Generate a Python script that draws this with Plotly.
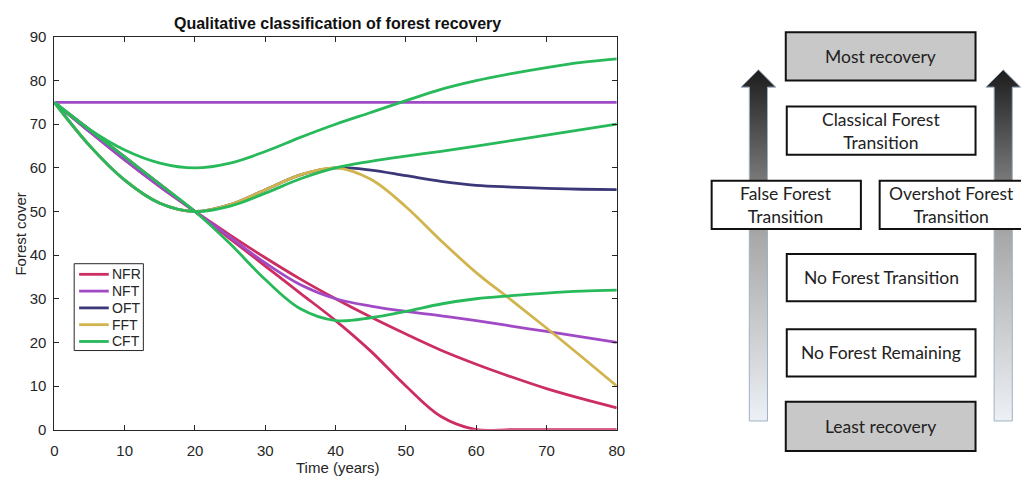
import plotly.graph_objects as go

# ---- data: forest cover (%) over time for each recovery class ----
years = [0, 5, 10, 15, 20, 25, 30, 35, 40, 45, 50, 55, 60, 65, 70, 75, 80]

nfr_zero = [75, 68.75, 62.5, 56.25, 50, 43.75, 37.5, 31.25, 25, 18, 10, 3, 0, 0, 0, 0, 0]
nfr_low = [75, 68.3, 61.8, 55.7, 50, 44.6, 39.4, 34.5, 30, 25.8, 21.9, 18.2, 15, 12.1, 9.4, 7.1, 5]
nft_flat = [75] * 17
nft_decl = [75, 68.3, 61.8, 55.7, 50, 44.1, 38.2, 33.2, 30, 28.3, 27.1, 26.1, 25, 23.75, 22.5, 21.25, 20]
oft = [75, 65.1, 57.2, 51.9, 50, 51.6, 55, 58.4, 60, 59.5, 58.2, 56.9, 56, 55.6, 55.3, 55.1, 55]
fft = [75, 65.1, 57.2, 51.9, 50, 51.6, 55, 58.4, 60, 57.4, 51.1, 43.3, 36, 29.7, 23.3, 16.7, 10]
cft_high = [75, 68.8, 64.1, 61.1, 60, 61.1, 63.75, 67, 70, 72.7, 75.4, 78, 80, 81.6, 83, 84.2, 85]
cft_mid = [75, 65.1, 57.2, 51.9, 50, 51.25, 54.2, 57.5, 60, 61.5, 62.7, 63.8, 65, 66.25, 67.5, 68.75, 70]
cft_low = [75, 68.75, 62.5, 56.25, 50, 42.6, 34.4, 27.7, 25, 25.65, 27.1, 28.8, 30, 30.7, 31.3, 31.75, 32]

x_ticks = [0, 10, 20, 30, 40, 50, 60, 70, 80]
y_ticks = [0, 10, 20, 30, 40, 50, 60, 70, 80, 90]

legend_names = ["NFR", "NFT", "OFT", "FFT", "CFT"]

# ---- classification ladder (labels from least to most recovery) ----
ladder_labels = ["Least recovery", "No Forest Remaining", "No Forest Transition",
                 "False Forest<br>Transition", "Overshot Forest<br>Transition",
                 "Classical Forest<br>Transition", "Most recovery"]

W, H = 1029, 483
FONT = "Liberation Sans, Arial, sans-serif"
DFONT = "Lato, Open Sans, sans-serif"
INK = "#262626"
LW = 2.8

colors = {"NFR": "#cc2e62", "NFT": "#a14ac6", "OFT": "#3b3879",
          "FFT": "#d2b44e", "CFT": "#27b95a"}

series = [("NFR", nfr_zero), ("NFR", nfr_low),
          ("NFT", nft_flat), ("NFT", nft_decl),
          ("OFT", oft), ("FFT", fft),
          ("CFT", cft_high), ("CFT", cft_mid), ("CFT", cft_low)]

fig = go.Figure()
for name, vals in series:
    fig.add_trace(go.Scatter(
        x=years, y=vals, mode="lines", name=name, showlegend=False,
        line=dict(color=colors[name], width=LW, shape="spline"),
        xaxis="x", yaxis="y"))


def px_x(px):
    return px / W


def px_y(py):
    return 1 - py / H


shapes = []
annotations = []

# ---- boxed legend inside the plot area ----
shapes.append(dict(type="rect", xref="paper", yref="paper",
                   x0=px_x(71), x1=px_x(141), y0=px_y(354), y1=px_y(264),
                   fillcolor="white", line=dict(color=INK, width=1), layer="above"))
for i, name in enumerate(legend_names):
    row = 275 + 17.4 * i
    shapes.append(dict(type="line", xref="paper", yref="paper",
                       x0=px_x(76), x1=px_x(106), y0=px_y(row), y1=px_y(row),
                       line=dict(color=colors[name], width=LW), layer="above"))
    annotations.append(dict(xref="paper", yref="paper", x=px_x(107.5), y=px_y(row),
                            text=name, showarrow=False, xanchor="left", yanchor="middle",
                            font=dict(family=FONT, size=14, color=INK)))

# ---- diagram panel on its own pixel-like axes ----
def Y(py):
    return H - py


arrow_scale = [[0, "#f2f6fb"], [0.55, "#a8a8a8"], [1, "#1e1e1e"]]
for cx in (763.3, 1011.0):
    half_shaft, half_head = 9.2, 17.6
    xs = [cx - half_shaft, cx - half_shaft, cx - half_head, cx, cx + half_head,
          cx + half_shaft, cx + half_shaft, cx - half_shaft]
    ys = [Y(427), Y(81), Y(81), Y(63), Y(81), Y(81), Y(427), Y(427)]
    fig.add_trace(go.Scatter(
        x=xs, y=ys, mode="lines", fill="toself", showlegend=False,
        hoverinfo="skip", xaxis="x2", yaxis="y2",
        line=dict(color="#9fb2c6", width=1),
        fillgradient=dict(type="vertical", colorscale=arrow_scale,
                          start=Y(427), stop=Y(63))))

boxes = [  # x0, x1, top, bottom, fill
    (791, 983, 407, 458, "#c8c8c8"),
    (792, 983, 332, 381, "white"),
    (792, 983, 254, 303, "white"),
    (716, 867, 178, 228, "white"),
    (886, 1031, 178, 228, "white"),
    (792, 983, 101, 151, "white"),
    (791, 983, 24, 74, "#c8c8c8"),
]
for (x0, x1, top, bot, fill), label in zip(boxes, ladder_labels):
    shapes.append(dict(type="rect", xref="x2", yref="y2", x0=x0, x1=x1,
                       y0=Y(bot), y1=Y(top), fillcolor=fill,
                       line=dict(color="#111111", width=2), layer="above"))
    annotations.append(dict(xref="x2", yref="y2", x=(x0 + x1) / 2,
                            y=Y((top + bot) / 2), text=label, showarrow=False,
                            font=dict(family=DFONT, size=17.5, color="#222222"),
                            xanchor="center", yanchor="middle"))

# chart title and axis titles
annotations += [
    dict(xref="paper", yref="paper", x=px_x(337), y=px_y(15),
         text="<b>Qualitative classification of forest recovery</b>", showarrow=False,
         font=dict(family=FONT, size=16, color="#111111"), xanchor="center", yanchor="middle"),
    dict(xref="paper", yref="paper", x=px_x(338), y=px_y(475), text="Time (years)",
         showarrow=False, font=dict(family=FONT, size=15, color=INK),
         xanchor="center", yanchor="middle"),
    dict(xref="paper", yref="paper", x=px_x(17), y=px_y(233), text="Forest cover",
         showarrow=False, textangle=-90, font=dict(family=FONT, size=15, color=INK),
         xanchor="center", yanchor="middle"),
]

axis_common = dict(showline=True, linecolor=INK, linewidth=1, mirror="ticks",
                   ticks="inside", ticklen=5, tickcolor=INK, tickwidth=1,
                   showgrid=False, zeroline=False,
                   tickfont=dict(family=FONT, size=15, color=INK))

fig.update_layout(
    width=W, height=H, autosize=False,
    margin=dict(l=0, r=0, t=0, b=0),
    paper_bgcolor="white", plot_bgcolor="rgba(0,0,0,0)",
    xaxis=dict(domain=[px_x(51), px_x(620)], range=[0, 80], tickvals=x_ticks,
               anchor="y", ticklabelstandoff=7, **axis_common),
    yaxis=dict(domain=[px_y(436), px_y(29)], range=[0, 90], tickvals=y_ticks,
               anchor="x", ticklabelstandoff=4, **axis_common),
    xaxis2=dict(domain=[px_x(690), 1], range=[690, 1029], visible=False,
                anchor="y2", fixedrange=True),
    yaxis2=dict(domain=[0, 1], range=[0, H], visible=False,
                anchor="x2", fixedrange=True),
    shapes=shapes, annotations=annotations,
    showlegend=False,
)

fig.write_html("out.html")
